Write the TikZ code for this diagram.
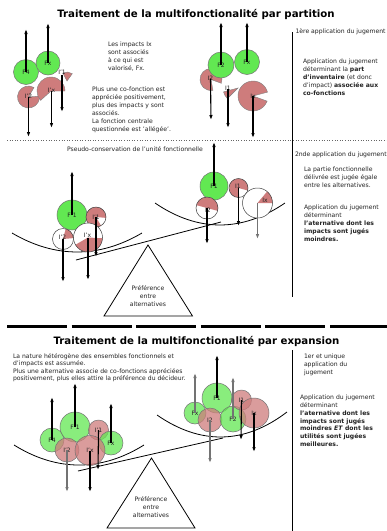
\documentclass[tikz,border=0pt]{standalone}
\usepackage{fontspec}
\setmainfont{DejaVu Sans}
\usetikzlibrary{arrows.meta}
\definecolor{fgreen}{RGB}{98,232,82}
\definecolor{ipink}{RGB}{206,124,124}
\definecolor{txt}{RGB}{35,35,35}
\begin{document}
\begin{tikzpicture}[x=1pt,y=-1pt,
  every node/.style={inner sep=0pt, outer sep=0pt},
  body/.style={font=\fontsize{6.1}{8}\selectfont, text=txt, align=left, anchor=north west},
  ttl/.style={font=\fontsize{10.2}{12}\selectfont\bfseries, anchor=base},
  lab/.style={font=\fontsize{6}{6}\selectfont, text=txt},
  fc/.style={circle, draw=black!55, line width=0.5pt, fill=fgreen, minimum size=#1, font=\fontsize{6}{6}\selectfont, text=txt},
  ic/.style={circle, draw=black!55, line width=0.5pt, fill=ipink, minimum size=#1, font=\fontsize{6}{6}\selectfont, text=txt},
  oc/.style={circle, draw=black!75, line width=0.5pt, minimum size=#1, font=\fontsize{6}{6}\selectfont, text=txt},
  pie/.style={fill=ipink, draw=black!50, line width=0.4pt},
  arr/.style={-{Latex[length=5pt,width=3.6pt]}, line width=1.1pt},
  garr/.style={arr, draw=black!55},
  thin/.style={line width=0.8pt}
]
\useasboundingbox (0,0) rectangle (387,531);
\fill[white] (0,0) rectangle (387,531);

% ---------------- titles and separators
\node[ttl] (t1) at (196,17) {Traitement de la multifonctionalité par partition};
\node[ttl] (t2) at (196.5,344) {Traitement de la multifonctionalité par expansion};
\coordinate (v1a) at (292,32); \coordinate (v1b) at (292,297);
\draw[thin] (v1a) -- (v1b);
\coordinate (v2a) at (292,350); \coordinate (v2b) at (292,531);
\draw[thin] (v2a) -- (v2b);
\coordinate (d1a) at (7,140); \coordinate (d1b) at (387,140);
\draw[black!60, dotted, line width=0.6pt] (d1a) -- (d1b);
\coordinate (s1a) at (7,326.5); \coordinate (s1b) at (387,326.5);
\draw[line width=2.6pt, dash pattern=on 60pt off 4.6pt] (s1a) -- (s1b);

% ---------------- top texts
\node[body] (ta) at (108,42) {Les impacts Ix\\sont associés\\à ce qui est\\valorisé, Fx.};
\node[body] (tb) at (92,86.5) {Plus une co-fonction est\\appréciée positivement,\\plus des impacts y sont\\associés.\\La fonction centrale\\questionnée est 'allégée'.};
\node[body] (tc) at (295.5,29) {1ère application du jugement};
\node[body] (td) at (303,58.5) {Application du jugement\\déterminant la \textbf{part}\\\textbf{d'inventaire} (et donc\\d'impact) \textbf{associée aux}\\\textbf{co-fonctions}};

% ---------------- top-left group
\fill[pie] (28.5,97) -- ++(-60:11) arc[start angle=-60, end angle=-365, radius=11] -- cycle;
\fill[pie] (51,91) -- ++(0:14) arc[start angle=0, end angle=-222, radius=14] -- cycle;
\fill[pie] (67,81) -- ++(-54:9) arc[start angle=-54, end angle=-117, radius=9] -- cycle;
\node[fc=25pt] (tlF4) at (26,72) {F4};
\node[fc=24pt] (tlFx) at (48,63) {Fx};
\node[lab] (tlI2) at (28.5,96.5) {I'2};
\node[lab] (tlIx) at (51.5,90.5) {I'x};
\node[lab] (tlI1) at (62,72.5) {I'1};
\coordinate (tlF4t) at (26,29); \coordinate (tlFxt) at (48,23);
\coordinate (tlI2t) at (28.5,137); \coordinate (tlIxt) at (51.5,128); \coordinate (tlI1t) at (62,112);
\draw[arr] (tlF4.center) -- (tlF4t);
\draw[arr] (tlFx.center) -- (tlFxt);
\draw[arr] (tlI2.center) -- (tlI2t);
\draw[arr] (tlIx.center) -- (tlIxt);
\draw[arr] (tlI1.south) -- (tlI1t);

% ---------------- top-right group
\fill[pie] (211,79.5) -- ++(20:11) arc[start angle=20, end angle=-280, radius=11] -- cycle;
\fill[pie] (238,88) -- ++(-195:15) arc[start angle=-195, end angle=-225, radius=15] -- cycle;
\fill[pie] (253,96) -- ++(-15:15) arc[start angle=-15, end angle=-340, radius=15] -- cycle;
\node[fc=26pt] (trF2) at (221,65) {F2};
\node[fc=25pt] (trFx) at (247,62) {Fx};
\node[lab] (trI2) at (210.5,78.5) {I2};
\node[lab] (trI1) at (228,88.5) {I1};
\node[lab] (trIx) at (253,96) {Ix};
\coordinate (trF2t) at (221,22); \coordinate (trFxt) at (247,22);
\coordinate (trI2t) at (211,120); \coordinate (trI1t) at (228,128); \coordinate (trIxt) at (253,138);
\draw[arr] (trF2.center) -- (trF2t);
\draw[arr] (trFx.center) -- (trFxt);
\draw[arr] (trI2.center) -- (trI2t);
\draw[arr] (trI1.center) -- (trI1t);
\draw[arr] (trIx.center) -- (trIxt);

% ---------------- middle texts
\node[body] (me) at (67,146.5) {Pseudo-conservation de l'unité fonctionnelle};
\node[body] (mf) at (295,152) {2nde application du jugement};
\node[body] (mg) at (304,167) {La partie fonctionnelle\\délivrée est jugée égale\\entre les alternatives.};
\node[body] (mh) at (304,204.5) {Application du jugement\\déterminant\\\textbf{l'aternative dont les}\\\textbf{impacts sont jugés}\\\textbf{moindres.}};

% ---------------- middle balance
\coordinate (mpL1) at (12,233); \coordinate (mpL2) at (142,233);
\draw[thin] (mpL1) .. controls (55,258.3) and (99,258.3) .. (mpL2);
\coordinate (mpR1) at (155,203); \coordinate (mpR2) at (285,203);
\draw[thin] (mpR1) .. controls (198,232.3) and (242,232.3) .. (mpR2);
\coordinate (mbA) at (76,260); \coordinate (mbB) at (221,222);
\draw[thin] (mbA) -- (mbB);
\coordinate (mtA) at (148,245); \coordinate (mtB) at (104,316); \coordinate (mtC) at (192.5,316);
\draw[thin, line join=miter] (mtA) -- (mtB) -- (mtC) -- cycle;
\node[body, align=center, anchor=north, font=\fontsize{6.1}{7.7}\selectfont] (mtx) at (148,286) {Préférence\\entre\\alternatives};

% ---------------- middle-left group
\node[fc=30pt] (mlF1) at (72,215) {F'1};
\fill[white] (96,217) circle[radius=10];
\fill[ipink] (96,217) -- ++(5:10) arc[start angle=5, end angle=-300, radius=10] -- cycle;
\node[oc=20pt] (mlI1) at (96,217) {I'1};
\fill[white] (63,239) circle[radius=10.5];
\fill[ipink] (63,239) -- ++(-5:10.5) arc[start angle=-5, end angle=-75, radius=10.5] -- cycle;
\node[oc=21pt] (mlI2) at (63,239) {};
\node[lab] (mlI2l) at (62.5,237.5) {I'2};
\fill[white] (88,237.5) circle[radius=14.5];
\fill[ipink] (88,237.5) -- ++(-210:14.5) arc[start angle=-210, end angle=-357, radius=14.5] -- cycle;
\node[oc=29pt] (mlIx) at (88,237.5) {};
\node[lab] (mlIxl) at (87.5,235.5) {I'x};
\coordinate (mlF1t) at (72,171); \coordinate (mlI1t) at (96,257);
\coordinate (mlI2t) at (63,282); \coordinate (mlIxt) at (88,280);
\draw[arr] (mlF1.center) -- (mlF1t);
\draw[arr] (mlI1.center) -- (mlI1t);
\draw[arr] (mlI2.center) -- (mlI2t);
\draw[arr] (mlIx.center) -- (mlIxt);

% ---------------- middle-right group
\node[fc=28pt] (mrF1) at (214,186) {F1};
\fill[white] (238.5,188) circle[radius=9.5];
\fill[ipink] (238.5,188) -- ++(15:9.5) arc[start angle=15, end angle=-275, radius=9.5] -- cycle;
\node[oc=19pt] (mrI1) at (238.5,188) {};
\node[lab] (mrI1l) at (238,186) {I1};
\fill[white] (207,208) circle[radius=11];
\fill[ipink] (207,208) -- ++(15:11) arc[start angle=15, end angle=-165, radius=11] -- cycle;
\node[oc=22pt] (mrI2) at (207,208) {};
\node[lab] (mrI2l) at (208,210) {I2};
\fill[white] (257.5,203) circle[radius=15];
\fill[ipink] (257.5,203) -- ++(0:15) arc[start angle=0, end angle=-50, radius=15] -- cycle;
\node[oc=30pt] (mrIx) at (257.5,203) {};
\node[lab] (mrIxl) at (265,200.5) {Ix};
\coordinate (mrF1t) at (214,142); \coordinate (mrI1t) at (238.5,226);
\coordinate (mrI2t) at (207,244); \coordinate (mrIxt) at (257.5,239);
\draw[arr] (mrF1.center) -- (mrF1t);
\draw[arr] (mrI1.center) -- (mrI1t);
\draw[arr] (mrI2.center) -- (mrI2t);
\draw[garr] (mrIx.center) -- (mrIxt);

% ---------------- bottom texts
\node[body, font=\fontsize{6.1}{7.5}\selectfont] (bi) at (13,353.5) {La nature hétérogène des ensembles fonctionnels et\\d'impacts est assumée.\\Plus une alternative associe de co-fonctions appréciées\\positivement, plus elles attire la préférence du décideur.};
\node[body] (bj) at (304,354) {1er et unique\\application du\\jugement};
\node[body, font=\fontsize{6.1}{7.8}\selectfont] (bk) at (300,395) {Application du jugement\\déterminant\\\textbf{l'aternative dont les}\\\textbf{impacts sont jugés}\\\textbf{moindres \textit{ET} dont les}\\\textbf{utilités sont jugées}\\\textbf{meilleures.}};

% ---------------- bottom balance
\coordinate (bpL1) at (14,445); \coordinate (bpL2) at (144,445);
\draw[thin] (bpL1) .. controls (57,471.7) and (101,471.7) .. (bpL2);
\coordinate (bpR1) at (157,415); \coordinate (bpR2) at (287,412);
\draw[thin] (bpR1) .. controls (200,444.8) and (244,444.8) .. (bpR2);
\coordinate (bbA) at (78,471); \coordinate (bbB) at (223,438);
\draw[thin] (bbA) -- (bbB);
\coordinate (btA) at (151.5,458); \coordinate (btB) at (107,528); \coordinate (btC) at (195,528);
\draw[thin, line join=miter] (btA) -- (btB) -- (btC) -- cycle;
\node[body, align=center, anchor=north, font=\fontsize{6.1}{7.8}\selectfont] (btx) at (151,497) {Préférence\\entre\\alternatives};

% ---------------- bottom-left group
\begin{scope}[every node/.append style={fill opacity=0.75, text opacity=1}]
\node[fc=24pt] (blF4) at (52,440) {F4};
\node[fc=30pt] (blF1) at (75,427) {F'1};
\node[ic=20pt] (blI1) at (98.5,430) {I'1};
\node[fc=24pt] (blFx) at (111,443) {Fx};
\node[ic=24pt] (blI2) at (67,450) {I'2};
\node[ic=30pt] (blIx) at (90,450.5) {I'x};
\end{scope}
\coordinate (blF4t) at (52,397); \coordinate (blF1t) at (75,383); \coordinate (blFxt) at (111,403);
\coordinate (blI1t) at (98,470); \coordinate (blI2t) at (67,492); \coordinate (blIxt) at (90,492);
\draw[arr] (blF4.center) -- (blF4t);
\draw[arr] (blF1.center) -- (blF1t);
\draw[arr] (blFx.center) -- (blFxt);
\draw[arr] (blI1.center) -- (blI1t);
\draw[garr] (blI2.center) -- (blI2t);
\draw[arr] (blIx.center) -- (blIxt);

% ---------------- bottom-right group
\begin{scope}[every node/.append style={fill opacity=0.75, text opacity=1}]
\node[fc=22pt] (brFx) at (195,413) {Fx};
\node[fc=30pt] (brF1) at (217,398) {F1};
\node[ic=24pt] (brI2) at (210,420) {I2};
\node[fc=26pt] (brF2) at (233,419) {F2};
\node[ic=20pt] (brI1) at (241.5,400) {I1};
\node[ic=30pt] (brIx) at (254,413) {Ix};
\end{scope}
\coordinate (brFxt) at (195,373); \coordinate (brF1t) at (217,355); \coordinate (brF2t) at (233,377);
\coordinate (brI2t) at (210,463); \coordinate (brI1t) at (241,440); \coordinate (brIxt) at (254,452);
\draw[garr] (brFx.center) -- (brFxt);
\draw[arr] (brF1.center) -- (brF1t);
\draw[garr] (brF2.center) -- (brF2t);
\draw[garr] (brI2.center) -- (brI2t);
\draw[arr] (brI1.center) -- (brI1t);
\draw[arr] (brIx.center) -- (brIxt);
\end{tikzpicture}
\end{document}
